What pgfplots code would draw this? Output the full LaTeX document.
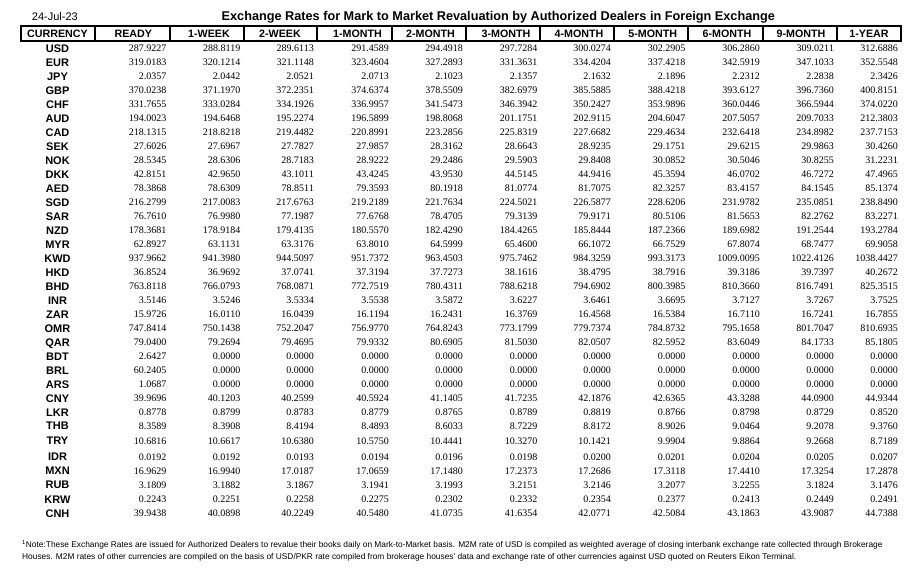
\documentclass[border=0pt]{standalone}
\usepackage{pgfplots}
\pgfplotsset{compat=1.18}
\usepackage{pgfplotstable}
\usepackage{fontspec}
\setmainfont{Liberation Serif}
\newfontfamily\arial{Liberation Sans}

\pgfplotstableread{
cur y ready w1 w2 m1 m2 m3 m4 m5 m6 m9 y1
USD 48.3 287.9227 288.8119 289.6113 291.4589 294.4918 297.7284 300.0274 302.2905 306.2860 309.0211 312.6886
EUR 62.3 319.0183 320.1214 321.1148 323.4604 327.2893 331.3631 334.4204 337.4218 342.5919 347.1033 352.5548
JPY 76.3 2.0357 2.0442 2.0521 2.0713 2.1023 2.1357 2.1632 2.1896 2.2312 2.2838 2.3426
GBP 90.3 370.0238 371.1970 372.2351 374.6374 378.5509 382.6979 385.5885 388.4218 393.6127 396.7360 400.8151
CHF 104.3 331.7655 333.0284 334.1926 336.9957 341.5473 346.3942 350.2427 353.9896 360.0446 366.5944 374.0220
AUD 118.3 194.0023 194.6468 195.2274 196.5899 198.8068 201.1751 202.9115 204.6047 207.5057 209.7033 212.3803
CAD 132.3 218.1315 218.8218 219.4482 220.8991 223.2856 225.8319 227.6682 229.4634 232.6418 234.8982 237.7153
SEK 146.3 27.6026 27.6967 27.7827 27.9857 28.3162 28.6643 28.9235 29.1751 29.6215 29.9863 30.4260
NOK 160.3 28.5345 28.6306 28.7183 28.9222 29.2486 29.5903 29.8408 30.0852 30.5046 30.8255 31.2231
DKK 174.3 42.8151 42.9650 43.1011 43.4245 43.9530 44.5145 44.9416 45.3594 46.0702 46.7272 47.4965
AED 188.3 78.3868 78.6309 78.8511 79.3593 80.1918 81.0774 81.7075 82.3257 83.4157 84.1545 85.1374
SGD 202.3 216.2799 217.0083 217.6763 219.2189 221.7634 224.5021 226.5877 228.6206 231.9782 235.0851 238.8490
SAR 216.3 76.7610 76.9980 77.1987 77.6768 78.4705 79.3139 79.9171 80.5106 81.5653 82.2762 83.2271
NZD 230.3 178.3681 178.9184 179.4135 180.5570 182.4290 184.4265 185.8444 187.2366 189.6982 191.2544 193.2784
MYR 244.3 62.8927 63.1131 63.3176 63.8010 64.5999 65.4600 66.1072 66.7529 67.8074 68.7477 69.9058
KWD 258.3 937.9662 941.3980 944.5097 951.7372 963.4503 975.7462 984.3259 993.3173 1009.0095 1022.4126 1038.4427
HKD 272.3 36.8524 36.9692 37.0741 37.3194 37.7273 38.1616 38.4795 38.7916 39.3186 39.7397 40.2672
BHD 286.3 763.8118 766.0793 768.0871 772.7519 780.4311 788.6218 794.6902 800.3985 810.3660 816.7491 825.3515
INR 300.3 3.5146 3.5246 3.5334 3.5538 3.5872 3.6227 3.6461 3.6695 3.7127 3.7267 3.7525
ZAR 314.3 15.9726 16.0110 16.0439 16.1194 16.2431 16.3769 16.4568 16.5384 16.7110 16.7241 16.7855
OMR 328.3 747.8414 750.1438 752.2047 756.9770 764.8243 773.1799 779.7374 784.8732 795.1658 801.7047 810.6935
QAR 342.3 79.0400 79.2694 79.4695 79.9332 80.6905 81.5030 82.0507 82.5952 83.6049 84.1733 85.1805
BDT 356.3 2.6427 0.0000 0.0000 0.0000 0.0000 0.0000 0.0000 0.0000 0.0000 0.0000 0.0000
BRL 370.3 60.2405 0.0000 0.0000 0.0000 0.0000 0.0000 0.0000 0.0000 0.0000 0.0000 0.0000
ARS 384.3 1.0687 0.0000 0.0000 0.0000 0.0000 0.0000 0.0000 0.0000 0.0000 0.0000 0.0000
CNY 398.3 39.9696 40.1203 40.2599 40.5924 41.1405 41.7235 42.1876 42.6365 43.3288 44.0900 44.9344
LKR 412.3 0.8778 0.8799 0.8783 0.8779 0.8765 0.8789 0.8819 0.8766 0.8798 0.8729 0.8520
THB 426.0 8.3589 8.3908 8.4194 8.4893 8.6033 8.7229 8.8172 8.9026 9.0464 9.2078 9.3760
TRY 441.0 10.6816 10.6617 10.6380 10.5750 10.4441 10.3270 10.1421 9.9904 9.8864 9.2668 8.7189
IDR 456.7 0.0192 0.0192 0.0193 0.0194 0.0196 0.0198 0.0200 0.0201 0.0204 0.0205 0.0207
MXN 471.0 16.9629 16.9940 17.0187 17.0659 17.1480 17.2373 17.2686 17.3118 17.4410 17.3254 17.2878
RUB 485.0 3.1809 3.1882 3.1867 3.1941 3.1993 3.2151 3.2146 3.2077 3.2255 3.1824 3.1476
KRW 499.3 0.2243 0.2251 0.2258 0.2275 0.2302 0.2332 0.2354 0.2377 0.2413 0.2449 0.2491
CNH 513.3 39.9438 40.0898 40.2249 40.5480 41.0735 41.6354 42.0771 42.5084 43.1863 43.9087 44.7388
}\ratetable

\pgfplotsset{
  valcol/.style={draw=none, mark=none, nodes near coords, point meta=explicit symbolic,
    every node near coord/.style={anchor=east, inner sep=0pt, text height=6.6pt, text depth=0pt,
      font=\fontsize{10}{12}\selectfont, text=black}},
  curcol/.style={draw=none, mark=none, nodes near coords, point meta=explicit symbolic,
    every node near coord/.style={anchor=center, inner sep=0pt, text height=7.9pt, text depth=0pt,
      font=\arial\bfseries\fontsize{11}{13}\selectfont, text=black}},
}

\begin{document}
\begin{tikzpicture}
\begin{axis}[
  width=917pt, height=570pt, scale only axis,
  xmin=0, xmax=917, ymin=0, ymax=570, y dir=reverse,
  axis line style={draw=none}, ticks=none, clip=false,
]
% header box
\addplot[black, line width=1.8pt, mark=none] coordinates {(21,26) (901,26) (901,41) (21,41)} --cycle;
\pgfplotsinvokeforeach{95,170,244,317,392,466,540,614,688,763,837}{
  \addplot[black, line width=1.8pt, mark=none] coordinates {(#1,26) (#1,41)};
}
% currency labels
\addplot[curcol] table[x expr=57.5, y=y, meta=cur]{\ratetable};
% values
\addplot[valcol] table[x expr=166.5, y=y, meta=ready]{\ratetable};
\addplot[valcol] table[x expr=240.5, y=y, meta=w1]{\ratetable};
\addplot[valcol] table[x expr=314,   y=y, meta=w2]{\ratetable};
\addplot[valcol] table[x expr=389,   y=y, meta=m1]{\ratetable};
\addplot[valcol] table[x expr=463,   y=y, meta=m2]{\ratetable};
\addplot[valcol] table[x expr=537.5, y=y, meta=m3]{\ratetable};
\addplot[valcol] table[x expr=611,   y=y, meta=m4]{\ratetable};
\addplot[valcol] table[x expr=685.5, y=y, meta=m5]{\ratetable};
\addplot[valcol] table[x expr=760,   y=y, meta=m6]{\ratetable};
\addplot[valcol] table[x expr=834,   y=y, meta=m9]{\ratetable};
\addplot[valcol] table[x expr=898,   y=y, meta=y1]{\ratetable};

% header texts
\begin{scope}[every node/.style={anchor=center, inner sep=0pt, text height=7.7pt, text depth=0pt, font=\arial\bfseries\fontsize{10.7}{12}\selectfont}]
\node at (axis cs:57.5,33.5) {CURRENCY};
\node at (axis cs:133.3,33.5) {READY};
\node at (axis cs:209,33.5) {1-WEEK};
\node at (axis cs:280,33.5) {2-WEEK};
\node at (axis cs:357.5,33.5) {1-MONTH};
\node at (axis cs:430.5,33.5) {2-MONTH};
\node at (axis cs:506,33.5) {3-MONTH};
\node at (axis cs:579,33.5) {4-MONTH};
\node at (axis cs:652.8,33.5) {5-MONTH};
\node at (axis cs:727,33.5) {6-MONTH};
\node at (axis cs:801,33.5) {9-MONTH};
\node at (axis cs:869,33.5) {1-YEAR};
\end{scope}

% date and title
\node[anchor=west, inner sep=0pt, text height=8pt, text depth=0pt, font=\arial\fontsize{11}{13}\selectfont] at (axis cs:31.7,16) {24-Jul-23};
\node[anchor=center, inner sep=0pt, text height=9pt, text depth=0pt, font=\arial\bfseries\fontsize{12.7}{14}\selectfont] at (axis cs:498.3,16) {Exchange Rates for Mark to Market Revaluation by Authorized Dealers in Foreign Exchange};

% footnote
\node[anchor=north west, inner sep=0pt, align=left, font=\arial\fontsize{8.35}{12.3}\selectfont] at (axis cs:22,540.5) {\textsuperscript{1}Note:These Exchange Rates are issued for Authorized Dealers to revalue their books daily on Mark-to-Market basis. M2M rate of USD is compiled as weighted average of closing interbank exchange rate collected through Brokerage\\Houses. M2M rates of other currencies are compiled on the basis of USD/PKR rate compiled from brokerage houses' data and exchange rate of other currencies against USD quoted on Reuters Eikon Terminal.};
\end{axis}
\end{tikzpicture}
\end{document}
